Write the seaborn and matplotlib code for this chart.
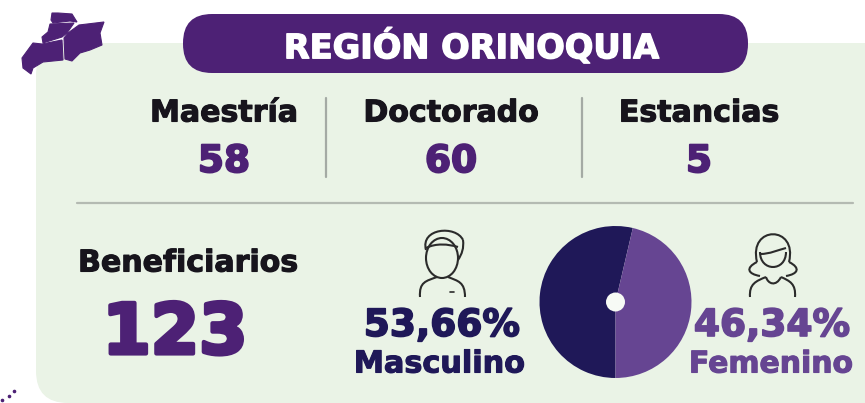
import matplotlib.pyplot as plt
import seaborn as sns
from matplotlib.patches import FancyBboxPatch, Ellipse, Polygon, PathPatch
from matplotlib.path import Path
import matplotlib.patheffects as pe

# Data
titulo = 'REGIÓN ORINOQUIA'
programas = ['Maestría', 'Doctorado', 'Estancias']
programas_n = [58, 60, 5]
total_label = 'Beneficiarios'
total_n = 123
generos = ['Masculino', 'Femenino']
generos_pct = [53.66, 46.34]
generos_txt = ['53,66%', '46,34%']

PURPLE = '#4D2175'
NAVY = '#1F1858'
VIOLET = '#664592'
GREEN = '#EAF3E6'
BLACK = '#17141C'

sns.set_theme(style='white')
plt.rcParams['font.family'] = ['DejaVu Sans']

fig = plt.figure(figsize=(8.65, 4.03), dpi=100, facecolor='white')
ax = fig.add_axes([0, 0, 1, 1])
ax.set_xlim(0, 865)
ax.set_ylim(403, 0)
ax.axis('off')


def label(x, y, s, size, color, thick=0.6):
    t = ax.text(x, y, s, fontsize=size, color=color, fontweight='bold',
                ha='center', va='center_baseline', zorder=5)
    t.set_path_effects([pe.withStroke(linewidth=thick, foreground=color)])
    return t


def stroke(pts, lw=1.5):
    codes = [Path.MOVETO] + [Path.CURVE4] * (len(pts) - 1)
    ax.add_patch(PathPatch(Path(pts, codes), fc='none', ec='#2B2B2B', lw=lw, zorder=4))


# panel and title pill
ax.add_patch(FancyBboxPatch((36, 43), 900, 360, boxstyle='round,pad=0,rounding_size=32',
                            fc=GREEN, ec='none', zorder=1))
ax.add_patch(FancyBboxPatch((183, 14), 565, 59, boxstyle='round,pad=0,rounding_size=29',
                            fc=PURPLE, ec='none', zorder=2))
label(472, 43.5, titulo, 24.2, 'white', 1.0)

# map
mapa_a = [(52, 13), (58, 13), (72, 14), (77, 22), (70, 21), (53, 23), (51, 20)]
mapa_b = [(50, 24), (74, 23), (67, 33), (62, 37), (43, 43), (42, 37), (48, 32)]
mapa_c = [(79, 25), (104, 22), (100, 33), (102, 45), (90, 50), (80, 53), (72, 61), (65, 59), (64, 38), (68, 33)]
mapa_d = [(22, 58), (33, 43), (42, 44), (62, 40), (63, 60), (43, 62), (33, 68), (31, 74), (23, 68)]
for forma in [mapa_a, mapa_b, mapa_c, mapa_d]:
    ax.add_patch(Polygon(forma, closed=True, fc=PURPLE, ec=PURPLE, lw=0.8, zorder=3))
ax.plot([2, 9, 14], [400, 396, 391], ls='none', marker='o', ms=1.6, color=PURPLE, zorder=3)

# programme counts
for x, nombre, n in zip([224, 451, 699], programas, programas_n):
    label(x, 110, nombre, 21.6, BLACK, 0.8)
    label(x, 158, str(n), 27, PURPLE, 1.4)
for x in [326, 582]:
    ax.plot([x, x], [98, 177], color='#A4AAA4', lw=1.6, zorder=3)
ax.plot([77, 853], [203, 203], color='#B4BAB2', lw=1.6, zorder=3)

# total
label(188, 260, total_label, 21.6, BLACK, 0.8)
label(175, 327, str(total_n), 50, PURPLE, 3.0)

# gender pie
pie_ax = fig.add_axes([(615.5 - 76) / 865, 1 - (302 + 76) / 403, 152 / 865, 152 / 403])
pie_ax.pie(generos_pct, colors=[NAVY, VIOLET], startangle=270, counterclock=False,
           radius=1.0, wedgeprops={'lw': 0})
pie_ax.set_xlim(-1, 1)
pie_ax.set_ylim(-1, 1)
pie_ax.add_patch(plt.Circle((0, 0), 0.125, fc='#F7FAF5', ec='none', zorder=5))
pie_ax.patch.set_alpha(0)

label(442, 322, generos_txt[0], 27, NAVY, 1.2)
label(439, 361, generos[0], 21.8, NAVY, 0.8)
label(772, 322, generos_txt[1], 27, VIOLET, 1.2)
label(771, 361, generos[1], 21.5, VIOLET, 0.8)

# man icon
ax.add_patch(Ellipse((442, 258), 32, 40, fc='none', ec='#2B2B2B', lw=1.5, zorder=4))
stroke([(426, 250), (420, 228), (456, 225), (463, 240)])
stroke([(463, 240), (464, 248), (462, 254), (458, 260)])
stroke([(426, 248), (436, 243), (448, 244), (458, 247)])
stroke([(420, 297), (419, 282), (426, 281), (437, 277)])
stroke([(448, 277), (458, 281), (465, 282), (465, 297)])
ax.plot([450, 454], [292, 292], color='#2B2B2B', lw=1.2, zorder=4)

# woman icon
stroke([(757, 262), (748, 225), (798, 225), (789, 262)])
stroke([(757, 262), (745, 268), (748, 274), (760, 276)])
stroke([(789, 262), (801, 268), (798, 274), (786, 276)])
stroke([(760, 252), (760, 272), (786, 272), (786, 252)])
stroke([(760, 254), (770, 254), (778, 250), (786, 248)])
stroke([(750, 297), (749, 284), (756, 281), (766, 277)])
stroke([(766, 277), (768, 284), (776, 287), (781, 277)])
stroke([(781, 277), (790, 281), (796, 284), (795, 297)])

plt.savefig('out.png', dpi=100)
